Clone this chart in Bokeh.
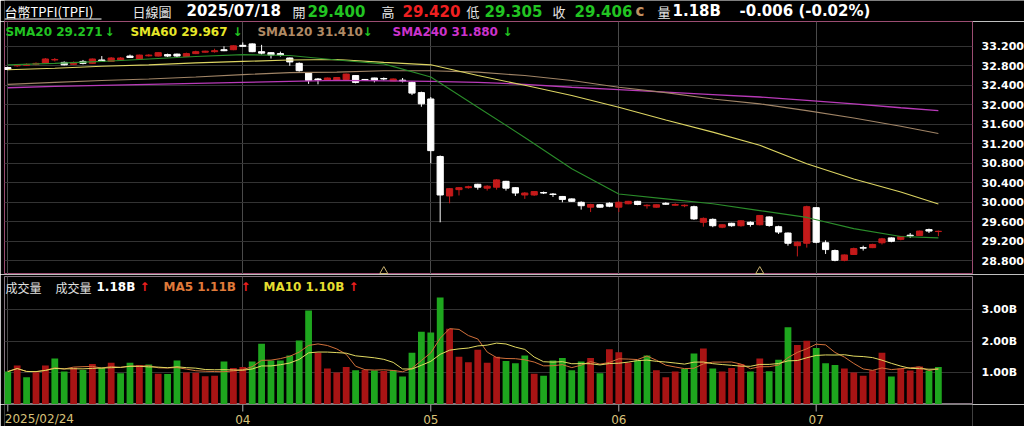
import pandas as pd
from bokeh.plotting import figure
from bokeh.layouts import column
from bokeh.models import ColumnDataSource, Range1d, FixedTicker, PrintfTickFormatter
from bokeh.core.properties import value
from bokeh.embed import file_html
from bokeh.resources import INLINE

# ---------------- data ----------------
tick_idx = [0, 25, 45, 65, 86]
tick_labels = ["2025/02/24", "04", "05", "06", "07"]

opens = [32.765, 32.80, 32.81, 32.83, 32.86, 32.92, 32.87, 32.83, 32.89, 32.85,
         32.92, 32.89, 32.92, 33.00, 32.94, 33.005, 33.00, 33.03, 33.04, 32.99,
         33.05, 33.08, 33.09, 33.13, 33.13, 33.22, 33.25, 33.09, 33.07, 33.05,
         32.96, 32.85, 32.66, 32.53, 32.51, 32.51, 32.52, 32.60, 32.52, 32.55,
         32.54, 32.49, 32.505, 32.46, 32.25, 32.12, 30.94, 30.13, 30.26, 30.30,
         30.37, 30.29, 30.31, 30.43, 30.30, 30.15, 30.15, 30.20, 30.17, 30.12,
         30.07, 30.00, 29.90, 29.95, 29.98, 29.90, 29.97, 30.02, 29.93, 29.90,
         29.98, 29.94, 29.93, 29.91, 29.59, 29.65, 29.49, 29.57, 29.52, 29.59,
         29.54, 29.70, 29.50, 29.37, 29.11, 29.16, 29.89, 29.17, 29.01, 28.81,
         28.93, 29.07, 29.07, 29.17, 29.27, 29.24, 29.325, 29.32, 29.44, 29.400]

highs = [32.78, 32.83, 32.85, 32.87, 32.96, 32.96, 32.89, 32.89, 32.92, 32.95,
         33.00, 32.98, 32.98, 33.03, 33.03, 33.04, 33.08, 33.05, 33.05, 33.07,
         33.11, 33.11, 33.15, 33.20, 33.22, 33.28, 33.26, 33.23, 33.08, 33.09,
         32.97, 32.87, 32.67, 32.55, 32.56, 32.57, 32.64, 32.61, 32.53, 32.555,
         32.56, 32.54, 32.55, 32.48, 32.27, 32.16, 30.96, 30.29, 30.31, 30.34,
         30.38, 30.35, 30.475, 30.44, 30.31, 30.21, 30.23, 30.22, 30.19, 30.13,
         30.08, 30.02, 29.97, 29.96, 30.00, 30.02, 30.03, 30.03, 29.96, 29.955,
         30.00, 29.98, 29.955, 29.93, 29.69, 29.67, 29.55, 29.58, 29.63, 29.61,
         29.74, 29.71, 29.52, 29.38, 29.20, 29.93, 29.90, 29.22, 29.03, 28.93,
         29.07, 29.11, 29.15, 29.27, 29.28, 29.31, 29.37, 29.42, 29.46, 29.420]

lows = [32.71, 32.78, 32.80, 32.81, 32.85, 32.89, 32.81, 32.82, 32.83, 32.84,
        32.885, 32.885, 32.915, 32.96, 32.93, 32.99, 32.99, 32.98, 32.98, 32.98,
        33.04, 33.07, 33.07, 33.10, 33.12, 33.19, 33.08, 33.03, 32.95, 32.99,
        32.80, 32.68, 32.43, 32.42, 32.50, 32.505, 32.505, 32.44, 32.49, 32.46,
        32.50, 32.485, 32.46, 32.20, 31.96, 30.80, 29.59, 29.98, 30.14, 30.28,
        30.26, 30.24, 30.26, 30.24, 30.13, 30.07, 30.13, 30.17, 30.11, 30.00,
        30.01, 29.85, 29.80, 29.89, 29.90, 29.80, 29.96, 29.94, 29.87, 29.89,
        29.95, 29.93, 29.90, 29.64, 29.50, 29.49, 29.47, 29.50, 29.50, 29.50,
        29.525, 29.50, 29.35, 29.11, 28.89, 29.07, 29.16, 28.94, 28.79, 28.79,
        28.92, 29.01, 29.06, 29.135, 29.18, 29.22, 29.27, 29.31, 29.37, 29.305]

closes = [32.724, 32.81, 32.83, 32.85, 32.94, 32.93, 32.82, 32.87, 32.85, 32.94,
          32.89, 32.96, 32.96, 32.97, 33.02, 33.02, 33.07, 33.00, 33.00, 33.05,
          33.09, 33.10, 33.11, 33.11, 33.21, 33.20, 33.09, 33.06, 33.02, 33.02,
          32.88, 32.70, 32.50, 32.51, 32.55, 32.56, 32.63, 32.46, 32.50, 32.50,
          32.53, 32.53, 32.49, 32.24, 32.02, 31.06, 30.15, 30.28, 30.30, 30.32,
          30.31, 30.33, 30.46, 30.29, 30.19, 30.19, 30.22, 30.19, 30.16, 30.06,
          30.02, 29.93, 29.955, 29.90, 29.92, 30.00, 30.02, 29.955, 29.94, 29.95,
          29.96, 29.955, 29.94, 29.66, 29.67, 29.52, 29.54, 29.52, 29.62, 29.545,
          29.73, 29.525, 29.39, 29.16, 29.18, 29.91, 29.18, 29.03, 28.81, 28.92,
          29.05, 29.06, 29.135, 29.25, 29.20, 29.30, 29.31, 29.41, 29.41, 29.406]

# volume in billions
volume = [1.04, 1.23, 0.86, 1.02, 1.23, 1.45, 1.04, 1.16, 1.09, 1.28,
          1.16, 1.32, 0.99, 1.32, 1.25, 1.26, 0.97, 0.96, 1.39, 1.01,
          1.00, 0.89, 0.91, 1.36, 1.15, 1.18, 1.36, 1.92, 1.39, 1.39,
          1.55, 2.02, 2.97, 1.63, 1.14, 1.01, 1.18, 1.08, 1.09, 1.07,
          1.06, 1.07, 0.88, 1.63, 2.30, 2.27, 3.38, 2.39, 1.51, 1.33,
          1.73, 1.32, 1.51, 1.37, 1.30, 1.55, 0.97, 0.91, 1.39, 1.47,
          1.08, 1.36, 1.47, 0.99, 1.74, 1.65, 1.32, 1.39, 1.55, 1.08,
          0.86, 1.04, 1.13, 1.61, 1.77, 1.14, 1.04, 1.15, 1.28, 1.04,
          1.45, 1.05, 1.41, 2.44, 1.88, 2.01, 1.78, 1.30, 1.25, 1.14,
          1.01, 0.91, 1.08, 1.63, 0.88, 1.14, 1.07, 1.20, 1.07, 1.18]
# r = up volume bar, g = down volume bar
vol_dir = ("grgrrggrgr" "grggrgrggr" "rrrgrrgggg" "gggrrrrgrg" "rggggggrrr"
           "rrrgggrggg" "ggrgrrrggr" "rrggrgrrrg" "rgggrrgggr" "rrrrgrrrgg")

# moving averages of price (at these bar indices)
sma_idx = [0, 5, 10, 15, 20, 25, 30, 35, 40, 45, 50, 55, 60, 65, 70, 75, 80, 85, 90, 95, 99]
sma20 = [32.82, 32.85, 32.89, 32.94, 32.99, 33.03, 33.01, 32.92, 32.84, 32.57, 31.95,
         31.33, 30.69, 30.17, 30.07, 29.97, 29.83, 29.69, 29.46, 29.30, 29.271]
sma60 = [32.72, 32.75, 32.79, 32.82, 32.86, 32.89, 32.92, 32.93, 32.87, 32.82, 32.60,
         32.40, 32.19, 31.95, 31.69, 31.44, 31.17, 30.79, 30.48, 30.21, 29.967]
sma120 = [32.42, 32.46, 32.50, 32.53, 32.57, 32.62, 32.66, 32.67, 32.70, 32.70, 32.67,
          32.60, 32.50, 32.36, 32.25, 32.12, 32.02, 31.88, 31.73, 31.56, 31.410]
sma240 = [32.35, 32.38, 32.40, 32.42, 32.44, 32.46, 32.48, 32.50, 32.49, 32.48, 32.46,
          32.42, 32.36, 32.31, 32.26, 32.21, 32.16, 32.09, 32.02, 31.94, 31.880]

event_idx = [40, 80]

price_ticks = [28.8, 29.2, 29.6, 30.0, 30.4, 30.8, 31.2, 31.6, 32.0, 32.4, 32.8, 33.2]
vol_ticks = [1, 2, 3]

hdr_date = "2025/07/18"
hdr_open, hdr_high, hdr_low, hdr_close = "29.400", "29.420", "29.305", "29.406"
hdr_vol = "1.18B"
hdr_change = "-0.006 (-0.02%)"
vol_last, ma5_last, ma10_last = "1.18B", "1.11B", "1.10B"

# ---------------- styling ----------------
BG = "#000000"
PINK = "#9c4d72"
VOL_OUT = "#857580"
GRID_C = "#333333"
VGRID_C = "#4a4a4a"
GREEN_T = "#22c422"
RED_T = "#f02020"
CANDLE_RED = "#c41a1a"
VOL_RED = "#a81414"
VOL_GREEN = "#1ea61e"
NUM = value("DejaVu Sans")
CJK = value("Noto Sans CJK TC")
LEFT, RIGHT, FW = 4, 52, 968
W = LEFT + FW + RIGHT

N = len(closes)
idx = list(range(N))
xr = Range1d(-0.35, 102.63)


def fig(**kw):
    opts = dict(toolbar_location=None, output_backend="svg",
                background_fill_color=BG, border_fill_color=BG,
                min_border_left=LEFT, min_border_right=RIGHT,
                min_border_top=0, min_border_bottom=0)
    opts.update(kw)
    f = figure(**opts)
    f.grid.visible = False
    return f


def style_right_axis(f, ticks, fmt):
    f.yaxis.ticker = FixedTicker(ticks=ticks)
    f.yaxis.formatter = PrintfTickFormatter(format=fmt)
    f.yaxis.axis_line_color = None
    f.yaxis.major_tick_line_color = None
    f.yaxis.minor_tick_line_color = None
    f.yaxis.major_label_standoff = 3
    f.yaxis.major_label_text_color = "#ffffff"
    f.yaxis.major_label_text_font = "DejaVu Sans"
    f.yaxis.major_label_text_font_style = "bold"
    f.yaxis.major_label_text_font_size = "11px"
    f.ygrid.visible = True
    f.ygrid.ticker = FixedTicker(ticks=ticks)
    f.ygrid.grid_line_color = GRID_C
    f.xgrid.visible = True
    f.xgrid.ticker = FixedTicker(ticks=tick_idx)
    f.xgrid.grid_line_color = VGRID_C


# ---------------- header ----------------
hdr = figure(frame_width=W, frame_height=21, x_range=Range1d(0, W), y_range=Range1d(0, 21),
             x_axis_location=None, y_axis_location=None, toolbar_location=None,
             output_backend="svg", background_fill_color=BG, border_fill_color=BG,
             outline_line_color=None, min_border_left=0, min_border_right=0,
             min_border_top=0, min_border_bottom=0)
hdr.grid.visible = False
hdr_cjk = ColumnDataSource(dict(
    x=[0, 128, 288, 377, 462, 548, 653],
    text=["台幣TPFI(TPFI)", "日線圖", "開", "高", "低", "收", "量"],
    color=["#ffffff", "#e6e6e6", "#e6e6e6", "#e6e6e6", "#e6e6e6", "#e6e6e6", "#e6e6e6"]))
hdr.text(x="x", y=10.5, text="text", text_color="color", source=hdr_cjk,
         text_font=CJK, text_font_size="13px", text_baseline="middle", text_align="left")
hdr.segment(x0=0, y0=2.5, x1=97, y1=2.5, line_color="#ffffff", line_width=1)
hdr_num = ColumnDataSource(dict(
    x=[182, 303, 398, 480, 570, 631, 668, 735],
    text=[hdr_date, hdr_open, hdr_high, hdr_low, hdr_close, "c", hdr_vol, hdr_change],
    color=["#ffffff", GREEN_T, RED_T, GREEN_T, GREEN_T, "#c09060", "#ffffff", "#ffffff"]))
hdr.text(x="x", y=10.5, text="text", text_color="color", source=hdr_num,
         text_font=NUM, text_font_style="bold", text_font_size="15px",
         text_baseline="middle", text_align="left")

# ---------------- price panel ----------------
p = fig(frame_width=FW, frame_height=253, x_range=xr, y_range=Range1d(28.519, 33.709),
        x_axis_location=None, y_axis_location="right", outline_line_color=PINK)
style_right_axis(p, price_ticks, "%.3f")

candle_color = [CANDLE_RED if c >= o else "#ffffff" for o, c in zip(opens, closes)]
csrc = ColumnDataSource(dict(
    x=idx, o=opens, h=highs, l=lows, c=closes,
    top=[max(o, c) for o, c in zip(opens, closes)],
    bottom=[min(o, c) for o, c in zip(opens, closes)],
    color=candle_color))
p.segment(x0="x", y0="l", x1="x", y1="h", line_color="color", line_width=1, source=csrc)
p.vbar(x="x", width=0.66, top="top", bottom="bottom", fill_color="color",
       line_color="color", line_width=1, source=csrc)

ssrc = ColumnDataSource(dict(x=sma_idx, s20=sma20, s60=sma60, s120=sma120, s240=sma240))
p.line("x", "s240", source=ssrc, line_color="#b83ab8", line_width=1.3)
p.line("x", "s120", source=ssrc, line_color="#a08466", line_width=1.1)
p.line("x", "s60", source=ssrc, line_color="#dcd462", line_width=1.1)
p.line("x", "s20", source=ssrc, line_color="#2a8c2a", line_width=1.1)

p.scatter(x=event_idx, y=[28.587] * len(event_idx), marker="triangle", size=8,
          fill_color=None, line_color="#c8b070", line_width=1)

leg_src = ColumnDataSource(dict(
    x=[-0.25, 13.05, 26.56, 40.93],
    text=[f"SMA20 {sma20[-1]:.3f}", f"SMA60 {sma60[-1]:.3f}",
          f"SMA120 {sma120[-1]:.3f}", f"SMA240 {sma240[-1]:.3f}"],
    color=[GREEN_T, "#e6e628", "#b08a64", "#cc33cc"]))
p.text(x="x", y=33.49, text="text", text_color="color", source=leg_src,
       text_font=NUM, text_font_style="bold", text_font_size="12px",
       text_baseline="middle", text_align="left")
p.text(x=[10.29, 23.90, 37.73, 52.63], y=[33.49] * 4, text=["↓"] * 4,
       text_color=GREEN_T, text_font=NUM, text_font_style="bold", text_font_size="12px",
       text_baseline="middle", text_align="left")

# ---------------- volume panel ----------------
v = fig(frame_width=FW, frame_height=128, x_range=xr, y_range=Range1d(0, 4.04),
        x_axis_location=None, y_axis_location="right", outline_line_color=VOL_OUT,
        min_border_top=2)
style_right_axis(v, vol_ticks, "%.2fB")

vol_s = pd.Series(volume)
vsrc = ColumnDataSource(dict(
    x=idx, vol=volume,
    color=[VOL_RED if d == "r" else VOL_GREEN for d in vol_dir],
    ma5=vol_s.rolling(5, min_periods=1).mean().tolist(),
    ma10=vol_s.rolling(10, min_periods=1).mean().tolist()))
v.vbar(x="x", width=0.72, top="vol", bottom=0, fill_color="color", line_color=None, source=vsrc)
v.line("x", "ma5", source=vsrc, line_color="#d0703a", line_width=1)
v.line("x", "ma10", source=vsrc, line_color="#e2da62", line_width=1)

VY = 3.70
v.text(x=[-0.25, 5.07], y=[VY, VY], text=["成交量", "成交量"], text_color="#e0e0e0",
       text_font=CJK, text_font_size="12px", text_baseline="middle", text_align="left")
vleg = ColumnDataSource(dict(
    x=[9.44, 16.56, 27.20],
    text=[vol_last, f"MA5 {ma5_last}", f"MA10 {ma10_last}"],
    color=["#ffffff", "#e07a3a", "#e6de30"]))
v.text(x="x", y=VY, text="text", text_color="color", source=vleg,
       text_font=NUM, text_font_style="bold", text_font_size="12px",
       text_baseline="middle", text_align="left")
v.text(x=[14.01, 24.76, 36.24], y=[VY] * 3, text=["↑"] * 3, text_color=RED_T,
       text_font=NUM, text_font_style="bold", text_font_size="12px",
       text_baseline="middle", text_align="left")

# ---------------- date axis ----------------
DH = 22
d = fig(frame_width=FW, frame_height=DH, x_range=xr, y_range=Range1d(0, DH),
        x_axis_location=None, y_axis_location=None, outline_line_color=None)
d.segment(x0=tick_idx, y0=[DH] * len(tick_idx), x1=tick_idx, y1=[DH - 7] * len(tick_idx),
          line_color="#b0b0b0", line_width=1)
d.text(x=tick_idx[:1], y=[7.5], text=tick_labels[:1], x_offset=-3,
       text_color="#d8c27a", text_font=NUM, text_font_size="12px",
       text_baseline="middle", text_align="left")
d.text(x=tick_idx[1:], y=[7.5] * (len(tick_idx) - 1), text=tick_labels[1:],
       text_color="#d8c27a", text_font=NUM, text_font_size="12px",
       text_baseline="middle", text_align="center")

layout = column(hdr, p, v, d, spacing=0)
open("out.html", "w", encoding="utf-8").write(file_html(layout, INLINE, "台幣TPFI"))
